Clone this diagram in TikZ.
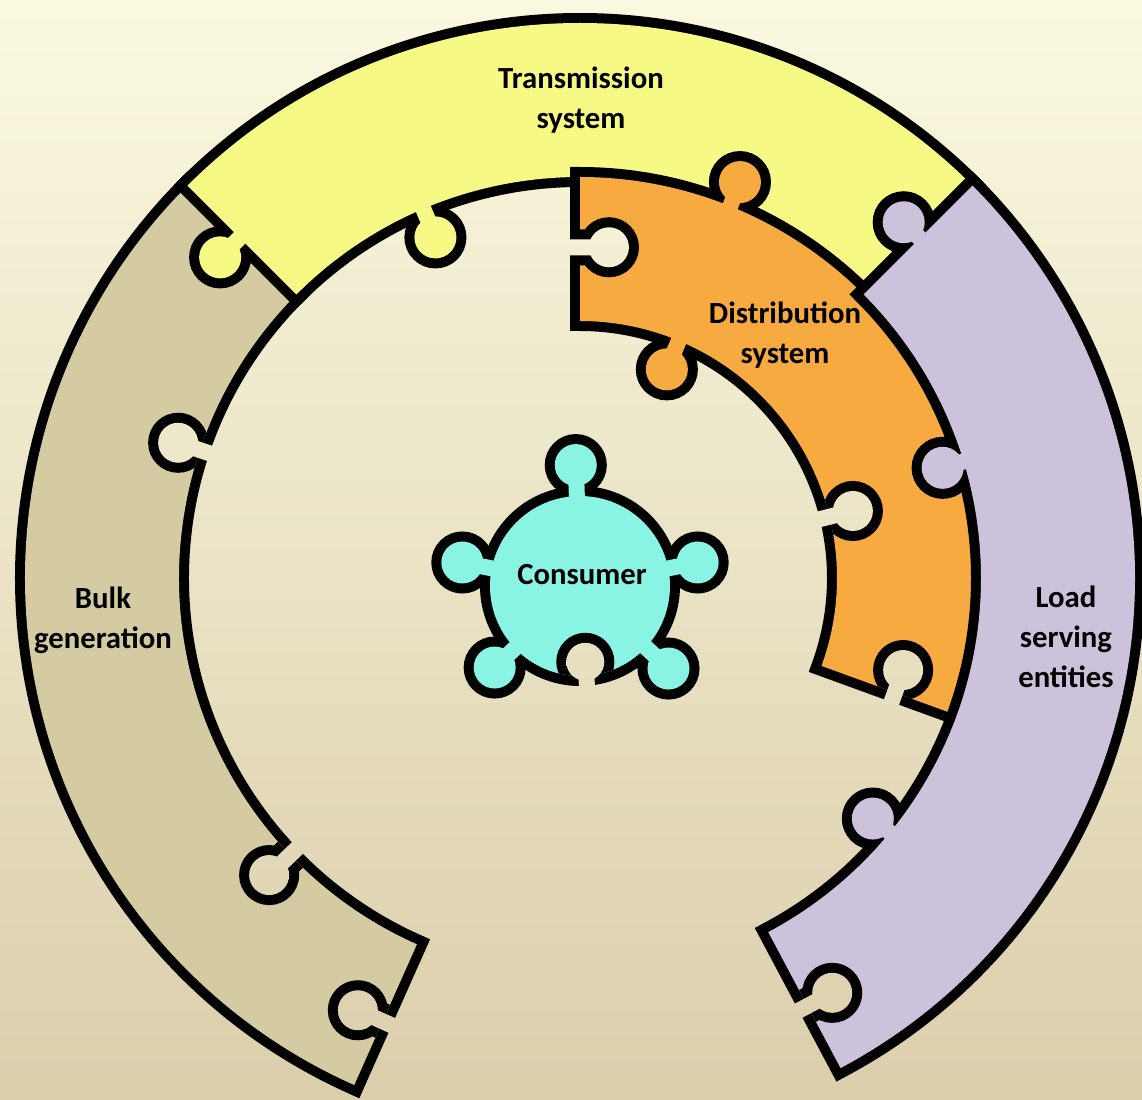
\documentclass[tikz,border=0pt]{standalone}
\usepackage{fontspec}
\setmainfont{Carlito}
\usepackage{tikz}

\definecolor{bgtop}{HTML}{FAF9E0}
\definecolor{bgbottom}{HTML}{DBCEAB}
\definecolor{bulkfill}{HTML}{D4CBA3}
\definecolor{transfill}{HTML}{F7F985}
\definecolor{distfill}{HTML}{F7AA40}
\definecolor{loadfill}{HTML}{CCC2DC}
\definecolor{consfill}{HTML}{89F4E4}

% ring segment: start angle, end angle, inner radius, outer radius
\newcommand{\arcpiece}[4]{(#1:#3) arc[start angle=#1, end angle=#2, radius=#3] -- (#2:#4) arc[start angle=#2, end angle=#1, radius=#4] -- cycle}
% puzzle knob: centre, direction it points, radius
\newcommand{\knob}[3]{(#1) circle[radius=#3] (#1) ++(#2+90:8) -- ++(#2+180:44) -- ++(#2-90:16) -- ++(#2:44) -- cycle}

\begin{document}
\begin{tikzpicture}[x=0.02cm, y=0.02cm,
    outline/.style={draw=black, line width=0.4cm},
    backdrop/.style={top color=bgtop, bottom color=bgbottom, draw=none},
    piecetext/.style={font=\fontsize{17.5}{22.8}\selectfont\bfseries, align=center}
]
    \useasboundingbox (-580,-521) rectangle (562,578);
    \coordinate (sw) at (-580,-521);
    \coordinate (ne) at (562,578);
    \shade[backdrop] (sw) rectangle (ne);

    % bulk generation
    \draw[outline] \arcpiece{135}{246}{401}{555};
    \fill[bulkfill] \arcpiece{135}{246}{401}{555};
    \begin{scope}
        \clip \arcpiece{135}{246}{401}{555};
        \draw[outline] \knob{161.4:424}{161.4}{20} \knob{223.7:430}{223.7}{20} \knob{242.8:486}{156}{20};
    \end{scope}
    \begin{scope}
        \clip \knob{161.4:424}{161.4}{20} \knob{223.7:430}{223.7}{20} \knob{242.8:486}{156}{20};
        \shade[backdrop] (sw) rectangle (ne);
    \end{scope}

    % transmission system
    \draw[outline] \arcpiece{45}{135}{401}{555} \knob{138.3:482}{225}{21} \knob{113:370}{293}{21};
    \fill[transfill] \arcpiece{45}{135}{401}{555};
    \fill[transfill] \knob{138.3:482}{225}{21} \knob{113:370}{293}{21};

    % distribution system
    \draw[outline] \arcpiece{-20}{90}{257}{401} \knob{68:427}{68}{21} \knob{67.4:226}{247.4}{21};
    \fill[distfill] \arcpiece{-20}{90}{257}{401};
    \fill[distfill] \knob{68:427}{68}{21} \knob{67.4:226}{247.4}{21};
    \begin{scope}
        \clip \arcpiece{-20}{90}{257}{401};
        \draw[outline] \knob{85:332}{0}{20} \knob{13.8:281}{13.8}{20} \knob{-15.9:336}{70}{20};
    \end{scope}
    \begin{scope}
        \clip \knob{85:332}{0}{20} \knob{13.8:281}{13.8}{20} \knob{-15.9:336}{70}{20};
        \shade[backdrop] (sw) rectangle (ne);
    \end{scope}

    % load serving entities
    \draw[outline] \arcpiece{-62}{45}{401}{555} \knob{47.7:481}{135}{21} \knob{16.9:379}{196.9}{21} \knob{-39.4:379}{140.6}{21};
    \fill[loadfill] \arcpiece{-62}{45}{401}{555};
    \fill[loadfill] \knob{47.7:481}{135}{21} \knob{16.9:379}{196.9}{21} \knob{-39.4:379}{140.6}{21};
    \begin{scope}
        \clip \arcpiece{-62}{45}{401}{555};
        \draw[outline] \knob{-58.7:485.5}{28}{20};
    \end{scope}
    \begin{scope}
        \clip \knob{-58.7:485.5}{28}{20};
        \shade[backdrop] (sw) rectangle (ne);
    \end{scope}

    % consumer
    \begin{scope}[shift={(0,-8)}]
        \draw[outline] (0,0) circle[radius=90];
        \foreach \a/\r in {92/121, 168.7/120, 11.3/120, 223.7/118, -43/121}
            \draw[outline] \knob{\a:\r}{\a}{21};
        \fill[consfill] (0,0) circle[radius=90];
        \foreach \a/\r in {92/121, 168.7/120, 11.3/120, 223.7/118, -43/121}
            \fill[consfill] \knob{\a:\r}{\a}{21};
        \begin{scope}
            \clip (0,0) circle[radius=90];
            \draw[outline] \knob{-86:76}{94}{19};
        \end{scope}
        \begin{scope}
            \clip \knob{-86:76}{94}{19};
            \shade[backdrop] (sw) rectangle (ne);
        \end{scope}
    \end{scope}

    \node[piecetext] (trans) at (1,478) {Transmission\\system};
    \node[piecetext] (dist) at (205,243) {Distribution\\system};
    \node[piecetext] (bulk) at (-477,-42) {Bulk\\generation};
    \node[piecetext] (load) at (486,-59) {Load\\serving\\entities};
    \node[piecetext] (cons) at (2,3) {Consumer};
\end{tikzpicture}
\end{document}
